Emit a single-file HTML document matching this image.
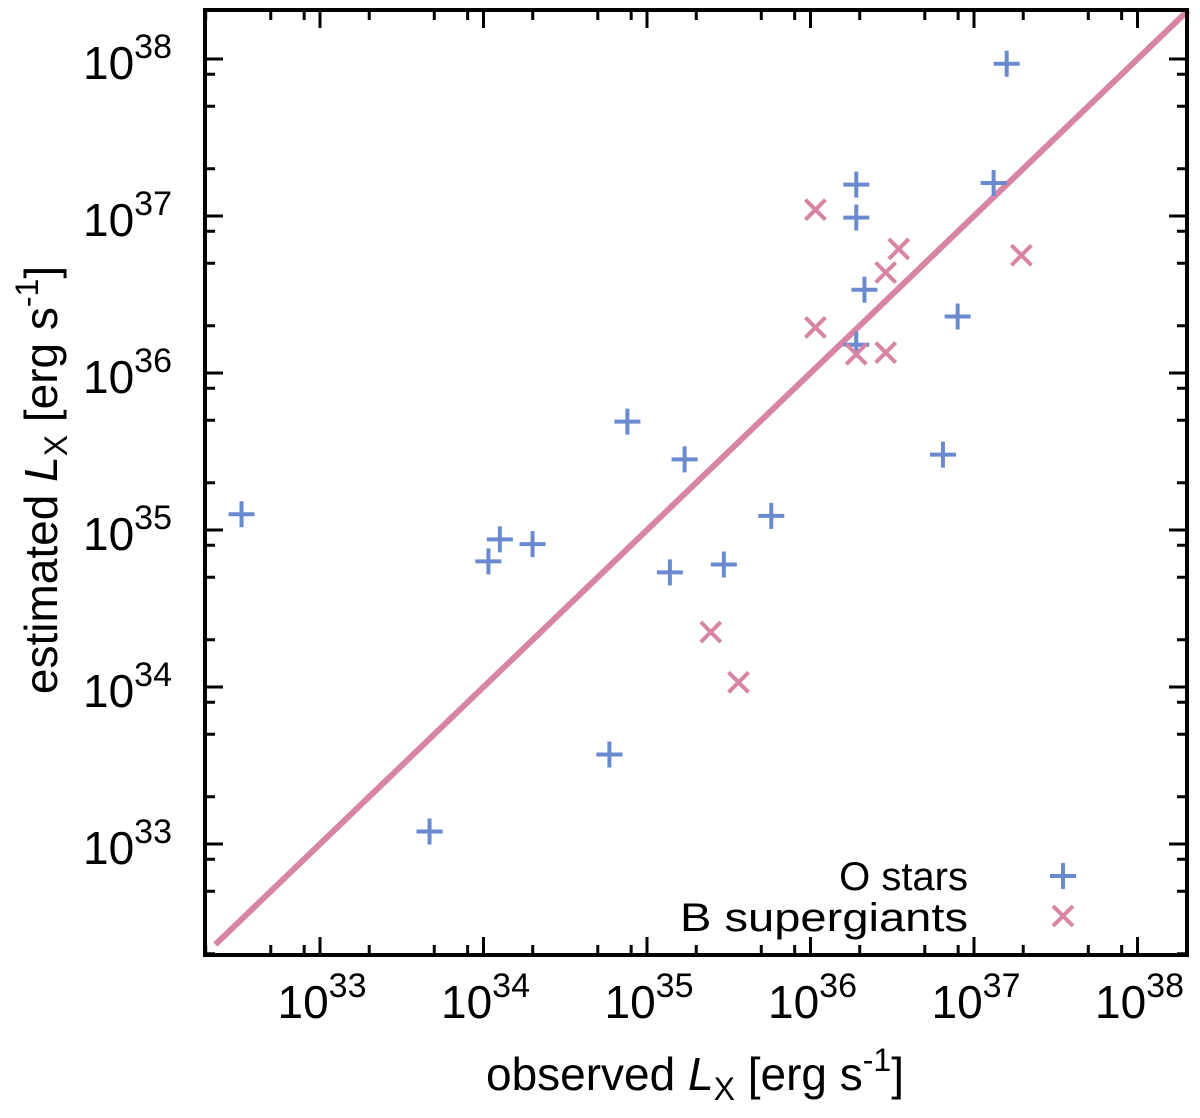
<!DOCTYPE html>
<html><head><meta charset="utf-8"><style>
body{margin:0;background:#fff;}
svg text{font-family:"Liberation Sans",sans-serif;fill:#000;}
</style></head><body>
<svg id="chart" width="1200" height="1113" xmlns="http://www.w3.org/2000/svg">
<g id="marks"></g>
<rect x="205" y="10" width="982" height="945" fill="none" stroke="#000" stroke-width="4"/>
<g id="ticks"></g>
<text x="695" y="1090" font-size="46" text-anchor="middle">observed <tspan font-style="italic">L</tspan><tspan font-size="32" dy="10">X</tspan><tspan dy="-10"> [erg s</tspan><tspan font-size="32" dy="-19">-1</tspan><tspan dy="19">]</tspan></text>
<text transform="translate(57,480) rotate(-90)" font-size="46" text-anchor="middle">estimated <tspan font-style="italic">L</tspan><tspan font-size="32" dy="10">X</tspan><tspan dy="-10"> [erg s</tspan><tspan font-size="32" dy="-19">-1</tspan><tspan dy="19">]</tspan></text>
<g>
<text x="968" y="890" font-size="40" text-anchor="end">O stars</text>
<text x="968" y="931" font-size="40" text-anchor="end" textLength="288" lengthAdjust="spacingAndGlyphs">B supergiants</text>
<path d="M1050 876h26M1063 863v26" stroke="#6a8ad0" stroke-width="4"/>
<path d="M1053 906l20 20M1073 906l-20 20" stroke="#d884a4" stroke-width="4"/>
</g>
</svg>
<script>
const oX=[32.52,33.67,34.03,34.10,34.30,34.77,34.88,35.14,35.23,35.47,35.76,36.28,36.28,36.33,36.28,36.81,36.90,37.12,37.20];
const oY=[35.10,33.08,34.80,34.94,34.91,33.57,35.69,34.73,35.45,34.78,35.09,37.20,36.99,36.53,36.18,35.48,36.36,37.21,37.97];
const bX=[36.03,36.03,36.28,36.46,36.54,36.46,37.29,35.39,35.56];
const bY=[37.04,36.29,36.12,36.64,36.79,36.13,36.75,34.35,34.03];
const decades=[33,34,35,36,37,38];
const minorFactors=[2,5,8];
const sx=v=>320+(v-33)*163.5;
const sy=v=>844-(v-33)*157;
const NS="http://www.w3.org/2000/svg";
const marks=document.getElementById('marks'),ticks=document.getElementById('ticks');
function mk(t,a,p){const e=document.createElementNS(NS,t);for(const k in a)e.setAttribute(k,a[k]);p.appendChild(e);return e;}
const ln=mk('line',{x1:sx(32.36),y1:sy(32.36),x2:sx(38.31),y2:sy(38.31),stroke:'#d884a4','stroke-width':6},marks);


oX.forEach((x,i)=>{const X=sx(x),Y=sy(oY[i]);
const p=mk('path',{d:`M${X-13} ${Y}h26M${X} ${Y-13}v26`,stroke:'#6a8ad0','stroke-width':4},marks);

});
bX.forEach((x,i)=>{const X=sx(x),Y=sy(bY[i]);
const p=mk('path',{d:`M${X-10} ${Y-10}l20 20M${X+10} ${Y-10}l-20 20`,stroke:'#d884a4','stroke-width':4},marks);

});
let tk='';
const allDec=[32,...decades];
allDec.forEach(d=>{
 if(d>=33){const X=sx(d),Y=sy(d);
  tk+=`M${X} 955v-18M${X} 10v18M205 ${Y}h18M1187 ${Y}h-18`;}
 minorFactors.forEach(f=>{const v=d+Math.log10(f);
  if(v>32.3&&v<38.3){const X=sx(v),Y=sy(v);
   tk+=`M${X} 955v-10M${X} 10v10M205 ${Y}h10M1187 ${Y}h-10`;}});
});
const tp=mk('path',{d:tk,stroke:'#000','stroke-width':3},ticks);


decades.forEach(d=>{
 const t=mk('text',{x:sx(d)+2,y:1018,'font-size':46,'text-anchor':'middle'},ticks);
 t.innerHTML=`10<tspan font-size="34" dy="-21">${d}</tspan>`;
 
 
 const u=mk('text',{x:172,y:sy(d)+20,'font-size':46,'text-anchor':'end'},ticks);
 u.innerHTML=`10<tspan font-size="34" dy="-21">${d}</tspan>`;
 
 
});
</script>
</body></html>
